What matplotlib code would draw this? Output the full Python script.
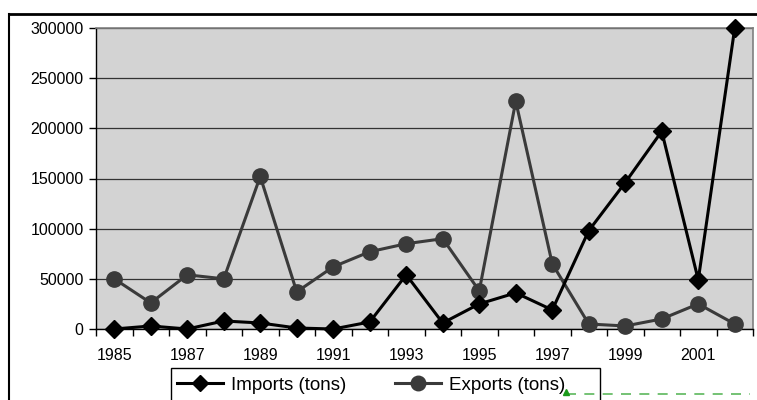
import matplotlib
matplotlib.use("Agg")
import matplotlib.pyplot as plt
from matplotlib.lines import Line2D
from matplotlib.patches import Rectangle

plt.rcParams['font.family'] = ['Liberation Sans', 'DejaVu Sans']

years = [1985, 1986, 1987, 1988, 1989, 1990, 1991, 1992, 1993, 1994,
         1995, 1996, 1997, 1998, 1999, 2000, 2001, 2002]
imports = [0, 3000, 0, 8000, 6000, 1000, 0, 7000, 54000, 6000,
           25000, 36000, 19000, 98000, 146000, 197000, 49000, 300000]
exports = [50000, 26000, 54000, 50000, 152000, 37000, 62000, 77000, 85000, 90000,
           38000, 227000, 65000, 5000, 3000, 10000, 25000, 5000]
yticks = [0, 50000, 100000, 150000, 200000, 250000, 300000]

W, H = 757, 400
fig = plt.figure(figsize=(W / 100, H / 100), dpi=100)
ax = fig.add_axes([96 / W, 71 / H, (753 - 96) / W, (329 - 28) / H])
ax.set_facecolor('#d3d3d3')

x = list(range(len(years)))
ax.plot(x, imports, color='black', lw=2.2, marker='D', ms=9,
        mfc='black', mec='black', clip_on=False, zorder=4, label='Imports (tons)')
ax.plot(x, exports, color='#3a3a3a', lw=2.2, marker='o', ms=11,
        mfc='#3a3a3a', mec='#3a3a3a', clip_on=False, zorder=3, label='Exports (tons)')

ax.set_xlim(-0.5, len(years) - 0.5)
ax.set_ylim(0, 300000)
ax.set_yticks(yticks)
ax.set_yticklabels([str(v) for v in yticks], fontsize=11.5)
ax.yaxis.grid(True, color='#333333', lw=0.9)
ax.set_axisbelow(True)

# category ticks between categories, labels every other year
ax.set_xticks([i - 0.5 for i in range(len(years) + 1)])
ax.set_xticklabels([])
ax.set_xticks(x, minor=True)
ax.set_xticklabels([str(y) if i % 2 == 0 else '' for i, y in enumerate(years)],
                   minor=True, fontsize=11.5)
ax.tick_params(axis='x', which='minor', length=0, pad=14)
ax.tick_params(axis='x', which='major', length=5, width=1, color='black', direction='out')
ax.tick_params(axis='y', length=5, width=1, color='black', direction='out', pad=4)

for s in ['left', 'bottom']:
    ax.spines[s].set_color('black')
    ax.spines[s].set_linewidth(1)
for s in ['top', 'right']:
    ax.spines[s].set_color('#808080')
    ax.spines[s].set_linewidth(1.2)

# outer chart border
fig.add_artist(Line2D([9 / W, 9 / W], [0, 1 - 14 / H], color='black', lw=1.5,
                      transform=fig.transFigure))
fig.add_artist(Line2D([9 / W, 1], [1 - 14 / H, 1 - 14 / H], color='black', lw=2,
                      transform=fig.transFigure))

# legend box
fig.add_artist(Rectangle((171 / W, -0.02), (600 - 171) / W, (1 - 368 / H) + 0.02,
                         transform=fig.transFigure, facecolor='white',
                         edgecolor='black', lw=1, zorder=5))
leg = fig.legend(loc='center left', bbox_to_anchor=(177 / W, 1 - 385 / H), ncol=2,
                 frameon=False, fontsize=13.5, handlelength=2.45,
                 columnspacing=2.6, borderpad=0, handletextpad=0.43,
                 borderaxespad=0, markerscale=0.95)
leg.set_zorder(6)

# green dashed artifact at bottom right
fig.add_artist(Line2D([566 / W, 750 / W], [1 - 394 / H, 1 - 394 / H], color='#5cb85c',
                      lw=1.2, ls=(0, (6, 5)), transform=fig.transFigure, zorder=10))
fig.add_artist(Line2D([566 / W], [1 - 392 / H], color='#1a9a1a', marker='^', ms=5,
                      transform=fig.transFigure, zorder=11))

fig.savefig('out.png', dpi=100)
